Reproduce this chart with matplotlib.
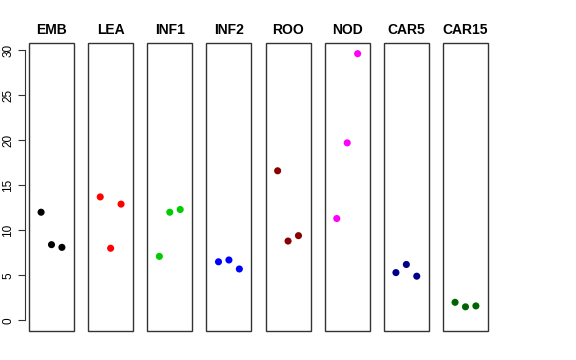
import matplotlib
matplotlib.use("Agg")
import matplotlib.pyplot as plt
from matplotlib.patches import Rectangle

plt.rcParams["font.family"] = ["Liberation Sans", "DejaVu Sans"]

groups = ["EMB", "LEA", "INF1", "INF2", "ROO", "NOD", "CAR5", "CAR15"]
colors = ["black", "red", "#00CD00", "blue", "#8B0000", "magenta", "#00008B", "#006400"]
values = [
    [12.0, 8.4, 8.1],
    [13.7, 8.0, 12.9],
    [7.1, 12.0, 12.3],
    [6.5, 6.7, 5.7],
    [16.6, 8.8, 9.4],
    [11.3, 19.7, 29.6],
    [5.3, 6.2, 4.9],
    [2.0, 1.5, 1.6],
]
reps = [1, 2, 3]
yticks = [0, 5, 10, 15, 20, 25, 30]

W, H = 576, 360
fig = plt.figure(figsize=(W / 100, H / 100), dpi=100)

ymax = max(max(v) for v in values)
pad = 0.04 * ymax
for i, (g, c, v) in enumerate(zip(groups, colors, values)):
    left = 29 + i * 59.14
    ax = fig.add_axes([left / W, 29 / H, 45 / W, 288 / H])
    ax.scatter(reps, v, color=c, s=26, edgecolors="none", zorder=3)
    ax.set_xlim(-0.16, 4.16)
    ax.set_ylim(-pad, ymax + pad)
    ax.set_xticks([])
    for s in ax.spines.values():
        s.set_visible(False)
    ax.add_patch(Rectangle((0, 0), 1, 1, transform=ax.transAxes, fill=False,
                           edgecolor="#333333", linewidth=1.0, clip_on=False))
    ax.set_title(g, fontsize=10, fontweight="bold", pad=6.5)
    if i == 0:
        ax.spines["left"].set_visible(True)
        ax.spines["left"].set_position(("outward", 3))
        ax.spines["left"].set_bounds(0, 30)
        ax.spines["left"].set_color("#333333")
        ax.set_yticks(yticks)
        ax.tick_params(axis="y", length=5, labelsize=8.5, color="#333333", pad=2.5)
        for lab in ax.get_yticklabels():
            lab.set_rotation(90)
            lab.set_va("center")
    else:
        ax.set_yticks([])

fig.savefig("out.png", dpi=100)
